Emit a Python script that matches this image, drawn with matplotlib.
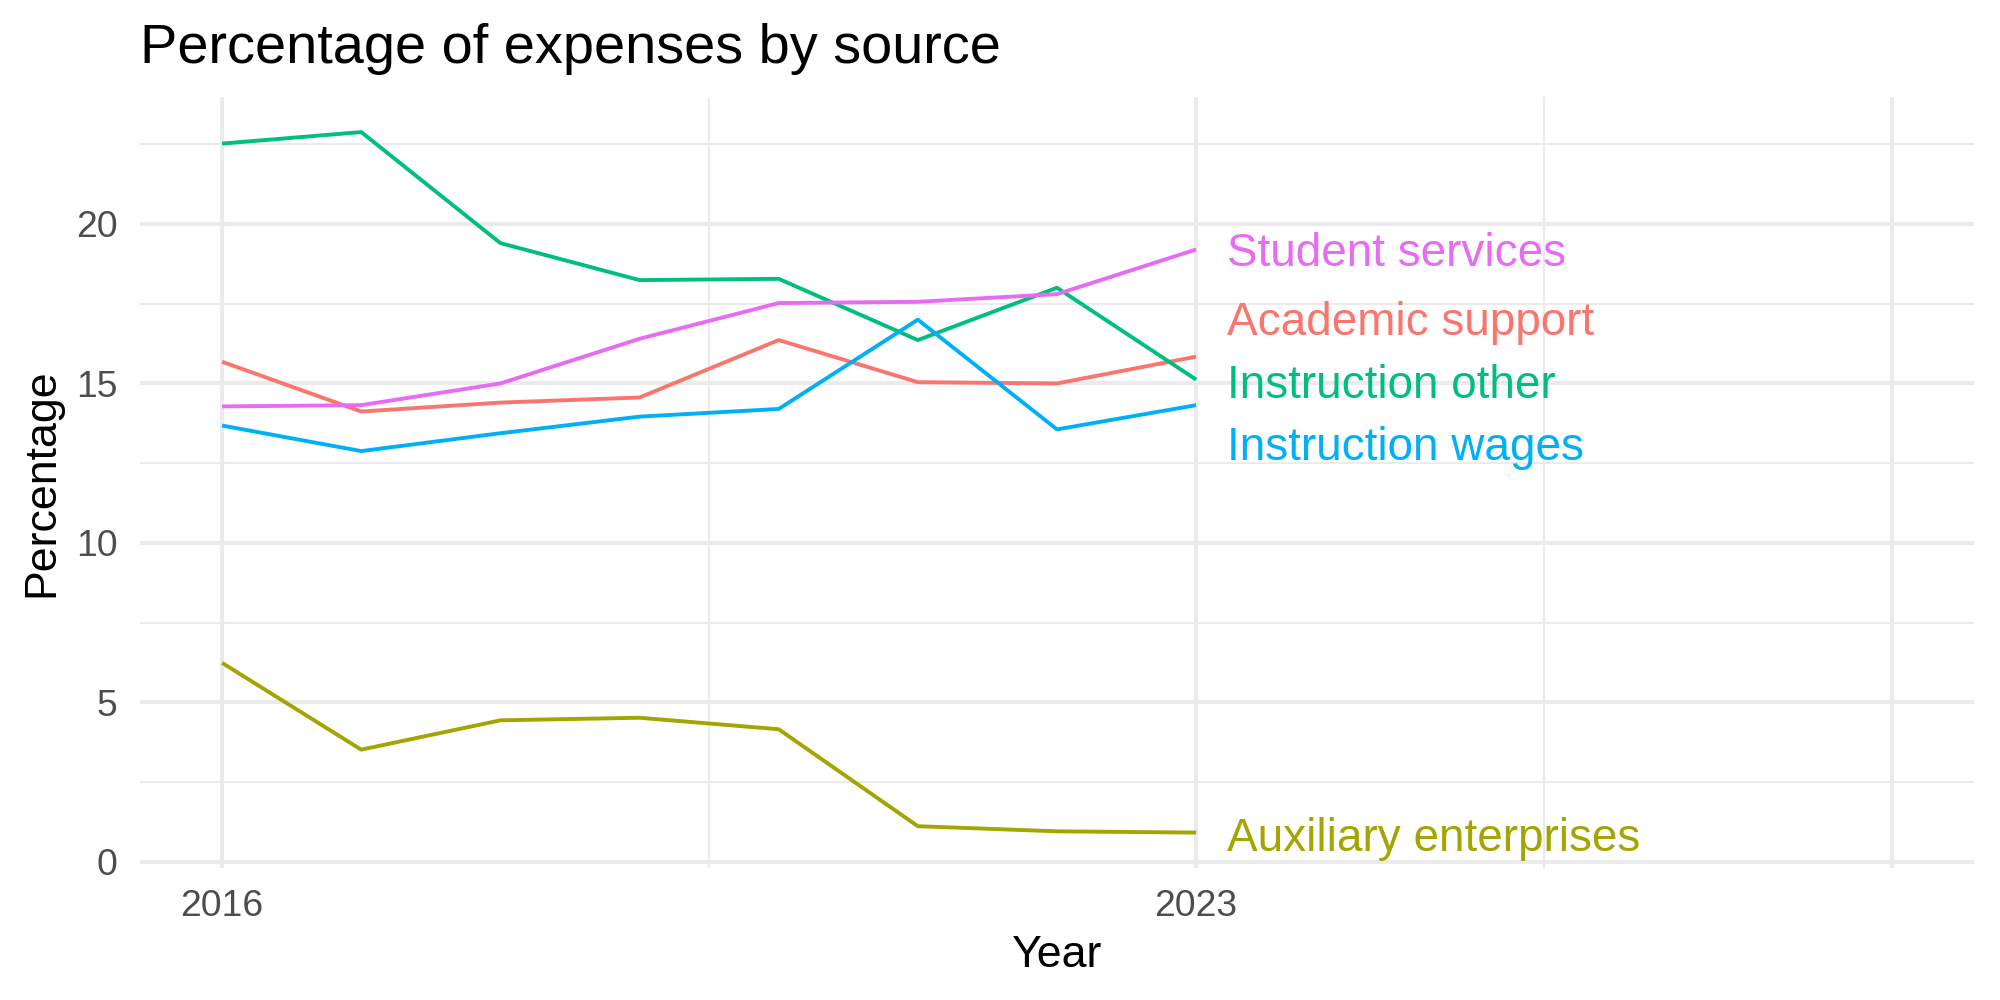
import numpy as np
import matplotlib
matplotlib.use('Agg')
from matplotlib import pyplot as plt
from matplotlib import transforms as mtrans

plt.rcParams['font.family'] = ['Liberation Sans', 'DejaVu Sans']

# data
years = [2016, 2017, 2018, 2019, 2020, 2021, 2022, 2023]
academic_support = [15.68, 14.12, 14.40, 14.56, 16.36, 15.04, 15.00, 15.84]
auxiliary = [6.24, 3.52, 4.44, 4.52, 4.16, 1.12, 0.96, 0.92]
instruction_other = [22.52, 22.88, 19.40, 18.24, 18.28, 16.36, 18.00, 15.12]
instruction_wages = [13.68, 12.88, 13.44, 13.96, 14.20, 17.00, 13.56, 14.32]
student_services = [14.28, 14.32, 15.00, 16.40, 17.52, 17.56, 17.80, 19.20]

sources = ['Academic support', 'Auxiliary enterprises', 'Instruction other',
           'Instruction wages', 'Student services']
series = [academic_support, auxiliary, instruction_other, instruction_wages, student_services]
colors = ['#F8766D', '#A3A500', '#00BF7D', '#00B0F6', '#E76BF3']
# label heights after repelling (centre of capitals)
label_y = [17.04, 0.86, 15.06, 13.10, 19.19]
label_x = 2023.22

x_major = [2016, 2023, 2028]
x_labels = ['2016', '2023', '']
x_minor = [2019.5, 2025.5]
y_major = [0, 5, 10, 15, 20]
y_minor = [2.5, 7.5, 12.5, 17.5, 22.5]

fig = plt.figure(figsize=(10, 5), dpi=200)
ax = fig.add_axes([0.07, 0.132, 0.917, 0.771])
grid = '#EBEBEB'

for v in y_minor:
    ax.axhline(v, color=grid, lw=0.75, zorder=0)
for v in y_major:
    ax.axhline(v, color=grid, lw=1.45, zorder=0)
for v in x_minor:
    ax.axvline(v, color=grid, lw=0.75, zorder=0)
for v in x_major:
    ax.axvline(v, color=grid, lw=1.45, zorder=0)

for vals, c in zip(series, colors):
    ax.plot(years, vals, color=c, lw=1.4, zorder=2, solid_capstyle='butt')

# shift text so that capitals are centred on the given y
cap_shift = mtrans.offset_copy(ax.transData, fig=fig, x=0, y=-16.5 * 0.716 / 2, units='points')
for name, c, yy in zip(sources, colors, label_y):
    ax.text(label_x, yy, name, color=c, fontsize=16.5, ha='left', va='baseline',
            transform=cap_shift, zorder=3)

ax.set_xlim(2015.41, 2028.59)
ax.set_ylim(-0.19, 23.98)
ax.set_xticks(x_major)
ax.set_xticklabels(x_labels)
ax.set_yticks(y_major)
ax.tick_params(length=0, labelsize=13.4, labelcolor='#4D4D4D')
ax.tick_params(axis='y', pad=8)
ax.tick_params(axis='x', pad=7.5)
for s in ax.spines.values():
    s.set_visible(False)

ax.set_xlabel('Year', fontsize=16.1, labelpad=4)
ax.set_ylabel('Percentage', fontsize=16.1, labelpad=5)
fig.text(0.07, 0.937, 'Percentage of expenses by source', fontsize=20.1, ha='left', va='baseline')

plt.savefig('out.png', dpi=200)
